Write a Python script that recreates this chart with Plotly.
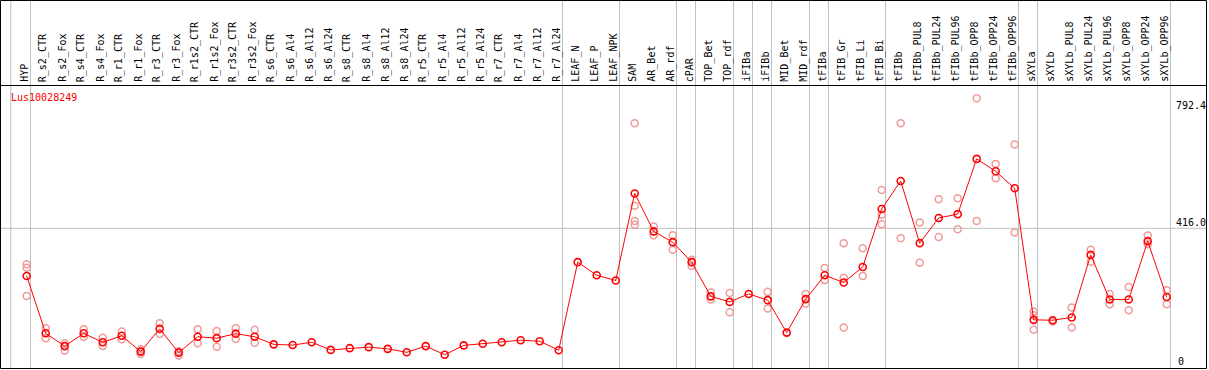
import plotly.graph_objects as go

categories = ["HYP", "R_s2_CTR", "R_s2_Fox", "R_s4_CTR", "R_s4_Fox", "R_r1_CTR", "R_r1_Fox",
              "R_r3_CTR", "R_r3_Fox", "R_r1s2_CTR", "R_r1s2_Fox", "R_r3s2_CTR", "R_r3s2_Fox",
              "R_s6_CTR", "R_s6_Al4", "R_s6_Al12", "R_s6_Al24", "R_s8_CTR", "R_s8_Al4",
              "R_s8_Al12", "R_s8_Al24", "R_r5_CTR", "R_r5_Al4", "R_r5_Al12", "R_r5_Al24",
              "R_r7_CTR", "R_r7_Al4", "R_r7_Al12", "R_r7_Al24", "LEAF_N", "LEAF_P", "LEAF_NPK",
              "SAM", "AR_Bet", "AR_rdf", "cPAR", "TOP_Bet", "TOP_rdf", "iFIBa", "iFIBb",
              "MID_Bet", "MID_rdf", "tFIBa", "tFIB_Gr", "tFIB_Li", "tFIB_Bi", "tFIBb",
              "tFIBb_PUL8", "tFIBb_PUL24", "tFIBb_PUL96", "tFIBb_OPP8", "tFIBb_OPP24",
              "tFIBb_OPP96", "sXYLa", "sXYLb", "sXYLb_PUL8", "sXYLb_PUL24", "sXYLb_PUL96",
              "sXYLb_OPP8", "sXYLb_OPP24", "sXYLb_OPP96"]

mean_values = [278, 112, 75, 112, 86, 105, 59, 125, 56, 102, 98, 111, 102,
               80, 78, 86, 64, 69, 72, 67, 57, 75, 50, 77, 82, 86, 92, 89, 63,
               318, 280, 265,
               517, 407, 376, 318, 219, 203, 226, 208, 114, 211,
               280, 259, 304, 472, 553, 373, 446, 457, 617, 581, 532,
               151, 150, 158, 339, 210, 210, 379, 217]

replicates = [[312, 302, 220], [127, 98], [83, 62], [124, 102], [99, 75], [117, 95], [66, 52],
              [141, 110], [60, 48], [124, 83], [119, 73], [127, 96], [122, 85],
              [], [], [], [], [], [], [], [], [], [], [], [], [], [], [], [],
              [], [], [],
              [720, 481, 437, 426], [421, 396], [396, 354], [325, 307], [230, 210], [229, 173],
              [], [232, 184], [], [226, 198],
              [301, 266], [373, 273, 129], [358, 278], [527, 455, 428], [720, 387],
              [433, 316], [500, 391], [503, 413], [792.4, 437], [602, 561], [659, 404],
              [175, 164, 122], [146], [187, 129], [354, 319], [226, 196], [246, 179],
              [395, 370], [237, 196]]

y_tick_labels = ["792.4", "416.0", "0"]
y_tick_values = [792.4, 416.0, 0]
group_ends = ["HYP", "R_r7_Al24", "LEAF_NPK", "AR_rdf", "cPAR", "TOP_rdf", "iFIBa", "iFIBb",
              "MID_rdf", "tFIBa", "tFIB_Bi", "tFIBb_OPP96", "sXYLa", "sXYLb_OPP96"]
title_text = "Lus10028249"

W, H = 1209, 370
TOP, BOTTOM = 86, 1
PLOT_H = H - TOP - BOTTOM
MONO = "DejaVu Sans Mono"

def py(p):
    # pixel row -> paper y
    return (H - BOTTOM - p) / PLOT_H

xs = list(range(len(categories)))
rep_x, rep_y = [], []
for i, reps in enumerate(replicates):
    for v in reps:
        rep_x.append(i)
        rep_y.append(v)

fig = go.Figure()
fig.add_trace(go.Scatter(x=rep_x, y=rep_y, mode="markers",
                         marker=dict(symbol="circle-open", size=7, color="#f09a9a",
                                     line=dict(width=1.5, color="#f09a9a")),
                         hoverinfo="skip", showlegend=False))
fig.add_trace(go.Scatter(x=xs, y=mean_values, mode="lines+markers",
                         line=dict(color="#ff0000", width=1),
                         marker=dict(symbol="circle-open", size=7, color="#ff0000",
                                     line=dict(width=1.6, color="#ff0000")),
                         showlegend=False))

shapes = []
sep_positions = [-0.84] + [categories.index(g) + 0.2 for g in group_ends]
for xv in sep_positions:
    shapes.append(dict(type="line", xref="x", yref="paper", x0=xv, x1=xv,
                       y0=0, y1=py(0), line=dict(color="#c0c0c0", width=1), layer="below"))
shapes.append(dict(type="line", xref="paper", yref="y", x0=0, x1=1206 / W,
                   y0=y_tick_values[1], y1=y_tick_values[1],
                   line=dict(color="#c0c0c0", width=1), layer="below"))
shapes.append(dict(type="rect", xref="paper", yref="paper", x0=0.5 / W, x1=1206.5 / W,
                   y0=py(368.5), y1=py(0.5), line=dict(color="black", width=1)))
shapes.append(dict(type="line", xref="paper", yref="paper", x0=0, x1=1207 / W,
                   y0=py(85.5), y1=py(85.5), line=dict(color="black", width=1)))

annotations = []
for i, name in enumerate(categories):
    annotations.append(dict(x=i, y=py(84), xref="x", yref="paper", text=name,
                            textangle=-90, showarrow=False, xanchor="center", yanchor="bottom",
                            xshift=-2, font=dict(family=MONO, size=10, color="black")))
annotations.append(dict(x=9 / W, y=py(90), xref="paper", yref="paper", text=title_text,
                        showarrow=False, xanchor="left", yanchor="top",
                        font=dict(family=MONO, size=10, color="#ff0000")))
annotations.append(dict(x=1174 / W, y=y_tick_values[0], xref="paper", yref="y",
                        text=y_tick_labels[0], showarrow=False, xanchor="left", yanchor="top",
                        font=dict(family=MONO, size=10, color="black")))
annotations.append(dict(x=1174 / W, y=y_tick_values[1], xref="paper", yref="y",
                        text=y_tick_labels[1], showarrow=False, xanchor="left", yanchor="bottom",
                        yshift=-2, font=dict(family=MONO, size=10, color="black")))
annotations.append(dict(x=1176 / W, y=0, xref="paper", yref="paper",
                        text=y_tick_labels[2], showarrow=False, xanchor="left", yanchor="bottom",
                        font=dict(family=MONO, size=10, color="black")))

x_lo = -26.7 / 19
x_hi = (W - 26.7) / 19
px_per_unit = 0.3454
zero_row = 372
y_lo = (zero_row - (H - BOTTOM)) / px_per_unit
y_hi = (zero_row - TOP) / px_per_unit

fig.update_layout(
    width=W, height=H,
    margin=dict(l=0, r=0, t=TOP, b=BOTTOM, pad=0),
    paper_bgcolor="white", plot_bgcolor="white",
    xaxis=dict(range=[x_lo, x_hi], visible=False, showgrid=False, zeroline=False),
    yaxis=dict(range=[y_lo, y_hi], visible=False, showgrid=False, zeroline=False),
    shapes=shapes, annotations=annotations,
    showlegend=False,
)

fig.write_html("out.html", config={"displayModeBar": False},
               post_script="document.body.style.margin='0';document.body.style.padding='0';")
